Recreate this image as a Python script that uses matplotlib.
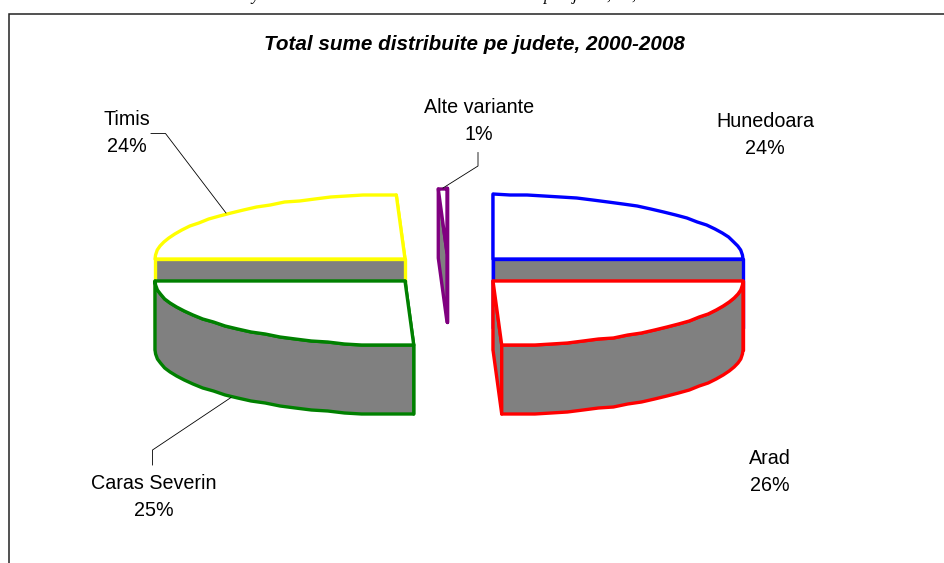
import numpy as np
import matplotlib
matplotlib.use("Agg")
import matplotlib.pyplot as plt
from matplotlib.patches import Polygon

# ---- data ----
categories = ["Hunedoara", "Arad", "Caras Severin", "Timis", "Alte variante"]
shares = [24, 26, 25, 24, 1]
title = "Total sume distribuite pe judete, 2000-2008"
caption_fragments = ["y", "p", "j", ",", ","]   # lower tips of a cropped caption above the chart

# ---- style / layout (figure pixels) ----
W, H = 945, 563
colors = ["#0000FF", "#FF0000", "#008000", "#FFFF00", "#800080"]
side_color = "#808080"
apex = [(493, 259), (493, 281), (405, 281), (405, 259), (447, 253)]
angle_correction = [0, -3.6, 2, 0, -1.6]   # perspective shift of slice boundaries
RX, RY, DEPTH = 250, 64.5, 69
LW = 2.4
N_ARC = 24
draw_order = [4, 3, 0, 2, 1]
label_pos = [(765, 127), (770, 464), (154, 489), (127, 125), (479, 113)]
LINE_GAP = 27
caption_x = [255, 548, 575, 609, 634]
leaders = [
    [(151, 133.5), (165.5, 133.5), (226, 213)],
    [(478, 152.5), (478, 166), (443, 188)],
    [(152.5, 465), (152.5, 450), (231, 397.5)],
]

plt.rcParams["font.family"] = ["Liberation Sans", "DejaVu Sans"]
fig = plt.figure(figsize=(W / 100, H / 100), dpi=100)
ax = fig.add_axes([0, 0, 1, 1])
ax.set_xlim(0, W)
ax.set_ylim(H, 0)
ax.axis("off")

# slice boundaries from the shares, clockwise from 12 o'clock
bounds = 90 - 3.6 * np.cumsum([0] + shares)


def pt(c, a, dz=0):
    r = np.deg2rad(a)
    return (c[0] + RX * np.cos(r), np.round(c[1] - RY * np.sin(r)) + dz)


def draw_slice(i):
    c = apex[i]
    a0 = bounds[i] + angle_correction[i]
    a1 = bounds[i + 1] + angle_correction[(i + 1) % 5]
    col = colors[i]
    z = 2 + draw_order.index(i)
    kw = dict(edgecolor=col, linewidth=LW, joinstyle="round", closed=True)
    # cut faces, the one further back first
    for k, a in enumerate(sorted((a0, a1), key=lambda v: -np.sin(np.deg2rad(v)))):
        p = pt(c, a)
        face = [c, p, (p[0], p[1] + DEPTH), (c[0], c[1] + DEPTH)]
        ax.add_patch(Polygon(face, facecolor=side_color, zorder=z + 0.01 * k, **kw))
    ang = np.linspace(a0, a1, N_ARC)
    # outer rim, only the part turned to the viewer
    front = ang[np.sin(np.deg2rad(ang)) <= 1e-6]
    if len(front) > 1:
        upper = [pt(c, a) for a in front]
        lower = [pt(c, a, DEPTH) for a in front[::-1]]
        ax.add_patch(Polygon(upper + lower, facecolor=side_color, zorder=z + 0.1, **kw))
    # top surface
    top = [c] + [pt(c, a) for a in ang]
    ax.add_patch(Polygon(top, facecolor="white", zorder=z + 0.2, **kw))


for i in draw_order:
    draw_slice(i)

# chart frame: only the left and top sides are in the picture
ax.plot([9, 9, W + 5], [H + 5, 13.5, 13.5], color="#222222", lw=1.1,
        solid_joinstyle="miter", zorder=1)

# leader lines
for path in leaders:
    xs, ys = zip(*path)
    ax.plot(xs, ys, color="black", lw=0.6, zorder=20)

# labels
for name, share, (x, y) in zip(categories, shares, label_pos):
    ax.text(x, y, name, ha="center", va="baseline", fontsize=14.2, color="black", zorder=21)
    ax.text(x, y + LINE_GAP, f"{share}%", ha="center", va="baseline", fontsize=14.2,
            color="black", zorder=21)

ax.text(474.5, 49.5, title, ha="center", va="baseline", fontsize=14.9, fontweight="bold",
        fontstyle="italic", color="black", zorder=21)

for x, s in zip(caption_x, caption_fragments):
    ax.text(x, -0.5, s, ha="center", va="baseline", fontsize=12, fontstyle="italic",
            family="Liberation Serif", color="black", clip_on=False, zorder=21)

fig.savefig("out.png", dpi=100, facecolor="white")
